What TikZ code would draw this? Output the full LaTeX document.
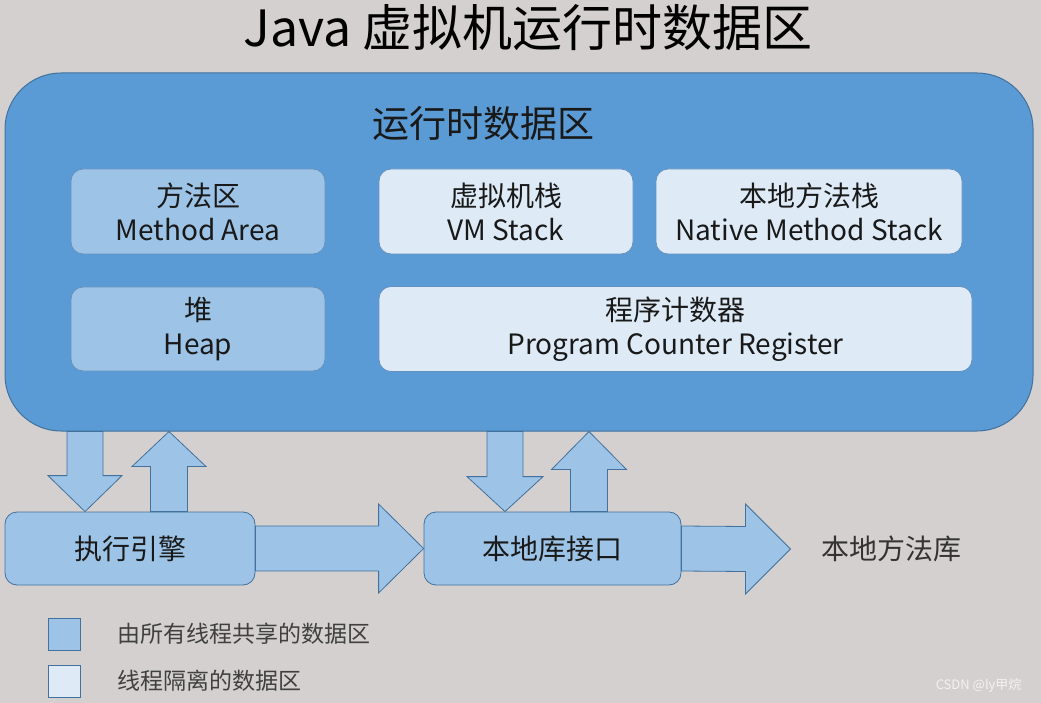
\documentclass[tikz,border=0pt]{standalone}
\usepackage{fontspec}
\setmainfont{Noto Sans CJK SC}
\usetikzlibrary{calc,positioning}

\definecolor{bgGray}{RGB}{212,208,208}
\definecolor{areaBlue}{RGB}{91,155,213}
\definecolor{edgeBlue}{RGB}{65,113,156}
\definecolor{sharedBlue}{RGB}{157,195,230}
\definecolor{privBlue}{RGB}{222,235,247}
\definecolor{boxEdge}{RGB}{100,145,192}

% block arrows: #1 tail, #2 tip, #3 half shaft, #4 half head, #5 head offset
\newcommand\vblock[5]{%
  \draw[blockarrow] ($(#1)+(-#3,0)$) -- ($(#2)+(-#3,#5)$) -- ($(#2)+(-#4,#5)$) -- (#2)
    -- ($(#2)+(#4,#5)$) -- ($(#2)+(#3,#5)$) -- ($(#1)+(#3,0)$) -- cycle;}
\newcommand\hblock[5]{%
  \draw[blockarrow] ($(#1)+(0,-#3)$) -- ($(#2)+(#5,-#3)$) -- ($(#2)+(#5,-#4)$) -- (#2)
    -- ($(#2)+(#5,#4)$) -- ($(#2)+(#5,#3)$) -- ($(#1)+(0,#3)$) -- cycle;}

\begin{document}
\begin{tikzpicture}[x=1pt,y=-1pt,
  every node/.append style={text=black!90},
  areabox/.style={draw=boxEdge,line width=0.8pt,rounded corners=12pt,inner sep=0pt,align=center,
    font=\fontsize{28}{34}\selectfont},
  sharedbox/.style={areabox,fill=sharedBlue},
  privbox/.style={areabox,fill=privBlue},
  blockarrow/.style={draw=edgeBlue,line width=0.8pt,fill=sharedBlue,line join=miter},
  keybox/.style={draw=edgeBlue,line width=1pt,minimum size=32pt,inner sep=0pt},
  keytext/.style={font=\fontsize{23}{26}\selectfont,text=black!75}]
  \fill[bgGray] (0,0) rectangle (1041,703);
  \useasboundingbox (0,0) rectangle (1041,703);

  \node[font=\fontsize{50}{56}\selectfont,text=black] (title) at (528,28) {Java 虚拟机运行时数据区};

  % runtime data area
  \node[draw=edgeBlue,line width=1pt,fill=areaBlue,rounded corners=56pt,
    minimum width=1028pt,minimum height=358pt] (rtda) at (519,252) {};
  \node[font=\fontsize{37}{40}\selectfont] (rtdalabel) at (483,123) {运行时数据区};

  \node[sharedbox,minimum width=254pt,minimum height=85pt] (method) at (198,211.5) {方法区\\Method Area};
  \node[privbox,minimum width=254pt,minimum height=85pt] (vmstack) at (506,211.5) {虚拟机栈\\VM Stack};
  \node[privbox,minimum width=306pt,minimum height=85pt] (nativestack) at (809,211.5) {本地方法栈\\Native Method Stack};
  \node[sharedbox,minimum width=254pt,minimum height=84pt] (heap) at (198,329) {堆\\Heap};
  \node[privbox,minimum width=593pt,minimum height=85pt] (pcreg) at (675.5,329) {程序计数器\\Program Counter Register};

  % engine and native interface
  \node[sharedbox,draw=edgeBlue,minimum width=250pt,minimum height=73pt] (engine) at (130,548.5) {执行引擎};
  \node[sharedbox,draw=edgeBlue,minimum width=257pt,minimum height=73pt] (nativeif) at (552.5,548.5) {本地库接口};
  \node[font=\fontsize{28}{30}\selectfont,text=black!80] (nativelib) at (891,549) {本地方法库};

  \foreach \nm/\xx in {dn1/85,up1/169,dn2/505,up2/589}{\coordinate (\nm) at (\xx,0);}
  \vblock{dn1 |- rtda.south}{dn1 |- engine.north}{18}{37}{-36}
  \vblock{up1 |- engine.north}{up1 |- rtda.south}{18.5}{37}{35}
  \vblock{dn2 |- rtda.south}{dn2 |- nativeif.north}{18}{38}{-35}
  \vblock{up2 |- nativeif.north}{up2 |- rtda.south}{18.5}{37.5}{38}
  \hblock{engine.east}{nativeif.west}{22.5}{44.5}{-45}
  \hblock{nativeif.east}{[xshift=-27pt]nativelib.west}{22.5}{45}{-45}

  % legend
  \node[keybox,fill=sharedBlue] (key1) at (64,634) {};
  \node[keybox,fill=privBlue] (key2) at (64,681) {};
  \node[keytext,right=33pt of key1] (key1text) {由所有线程共享的数据区};
  \node[keytext,right=33pt of key2] (key2text) {线程隔离的数据区};

  \node[anchor=east,font=\fontsize{13}{15}\selectfont,text=white!90!gray] (mark) at (1025,686) {CSDN @ly甲烷};
\end{tikzpicture}
\end{document}
